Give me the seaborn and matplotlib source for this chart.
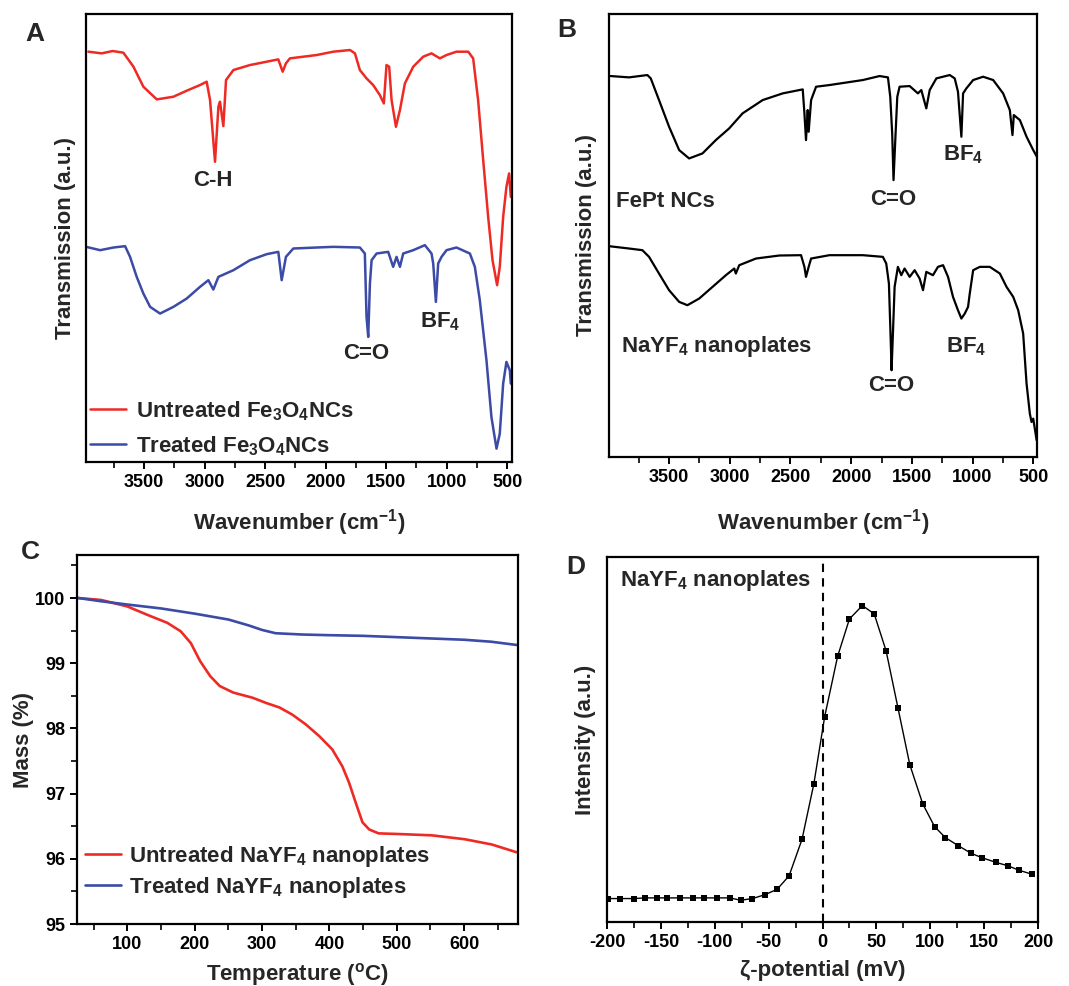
import matplotlib
matplotlib.use('Agg')
import matplotlib.pyplot as plt
from matplotlib.ticker import MultipleLocator
import seaborn as sns

# ---------- data ----------
# A: FTIR, untreated / treated Fe3O4 NCs (transmission in arbitrary units)
a_untreated_wn = [3960, 3850, 3760, 3671, 3588, 3506, 3395, 3258, 3148, 3038, 2983, 2955, 2914, 2886,
                  2873, 2845, 2823, 2762, 2625, 2487, 2391, 2355, 2328, 2295, 2074, 1937, 1799, 1758,
                  1717, 1662, 1607, 1552, 1519, 1497, 1475, 1455, 1419, 1386, 1345, 1276, 1194, 1125,
                  1056, 1001, 919, 822, 781, 740, 698, 657, 621, 583, 561, 533, 506, 484, 470]
a_untreated_t = [123.0, 122.5, 123.2, 122.7, 118.5, 112.5, 108.7, 109.5, 111.3, 113.0, 114.0, 108.5, 90.0, 106.5,
                 108.0, 100.7, 114.5, 117.5, 119.0, 120.0, 120.7, 117.0, 119.5, 121.0, 122.0, 123.0, 123.5, 122.5,
                 117.5, 115.0, 113.0, 110.0, 107.5, 119.0, 118.5, 108.5, 100.5, 105.5, 113.5, 118.5, 121.5, 122.5,
                 121.0, 122.0, 123.0, 123.0, 121.0, 108.5, 90.5, 73.5, 60.5, 53.0, 58.5, 73.5, 82.5, 86.5, 79.5]
a_treated_wn = [3979, 3863, 3753, 3657, 3616, 3561, 3506, 3450, 3368, 3258, 3148, 3038, 2969, 2928,
                2886, 2762, 2625, 2487, 2391, 2363, 2328, 2267, 2074, 1937, 1717, 1676, 1662, 1648,
                1634, 1620, 1579, 1483, 1442, 1414, 1386, 1359, 1276, 1180, 1125, 1111, 1089, 1070,
                1042, 1001, 919, 808, 767, 726, 671, 630, 588, 561, 533, 506, 478, 470]
a_treated_t = [64.5, 63.5, 64.3, 64.7, 61.5, 55.5, 50.5, 46.5, 44.5, 46.5, 49.0, 52.5, 54.5, 51.7,
               55.5, 57.5, 60.5, 62.3, 63.0, 54.5, 61.5, 64.0, 64.3, 64.5, 64.3, 62.5, 43.5, 37.5,
               53.5, 60.5, 62.5, 63.0, 58.5, 61.5, 58.5, 62.5, 63.5, 65.0, 62.5, 59.5, 48.0, 59.5,
               61.5, 63.5, 64.3, 62.5, 58.5, 48.5, 30.5, 13.5, 4.0, 8.5, 23.5, 30.0, 27.5, 23.5]

# B: FTIR, FePt NCs / NaYF4 nanoplates
b_fept_wn = [3982, 3830, 3679, 3651, 3583, 3500, 3417, 3335, 3225, 3115, 3005, 2895, 2729, 2564,
             2399, 2385, 2372, 2358, 2350, 2330, 2289, 2179, 1904, 1766, 1697, 1678, 1662, 1651,
             1634, 1620, 1601, 1518, 1450, 1422, 1381, 1353, 1298, 1188, 1147, 1120, 1092, 1078,
             1051, 995, 913, 830, 748, 693, 671, 660, 610, 555, 500, 470]
b_fept_t = [114.2, 113.8, 114.5, 113.5, 107.0, 99.0, 92.0, 89.5, 91.0, 95.0, 98.5, 103.0, 107.0, 109.0,
            110.2, 103.0, 95.0, 104.0, 97.5, 107.0, 111.0, 111.5, 113.0, 114.2, 113.8, 108.0, 97.0, 83.0,
            97.0, 108.0, 111.0, 111.2, 109.0, 110.0, 104.5, 110.0, 113.5, 114.5, 113.5, 109.5, 96.0, 109.0,
            110.5, 113.0, 114.0, 113.0, 109.0, 104.0, 96.5, 102.5, 101.0, 96.0, 92.0, 90.0]
b_nayf_wn = [3995, 3830, 3720, 3665, 3583, 3500, 3417, 3349, 3252, 3142, 3032, 2963, 2950, 2922,
             2784, 2592, 2413, 2385, 2372, 2350, 2330, 2179, 1904, 1739, 1711, 1689, 1675, 1667,
             1656, 1642, 1615, 1587, 1560, 1518, 1477, 1436, 1408, 1381, 1326, 1285, 1243, 1202,
             1161, 1120, 1092, 1064, 1037, 1023, 995, 940, 858, 775, 720, 665, 624, 583, 555,
             528, 514, 500, 472]
b_nayf_t = [63.2, 62.5, 62.0, 60.0, 55.0, 50.0, 46.5, 45.5, 47.5, 51.0, 54.5, 56.5, 55.0, 57.5,
            59.5, 60.4, 60.5, 57.0, 54.0, 57.0, 59.5, 60.5, 60.5, 60.0, 58.0, 52.0, 36.0, 26.0,
            37.0, 51.0, 57.0, 54.5, 56.5, 54.0, 56.0, 53.5, 50.0, 55.5, 54.5, 57.0, 57.5, 54.0,
            48.0, 44.0, 41.5, 43.0, 45.0, 49.0, 56.0, 57.0, 57.0, 55.0, 51.0, 48.0, 44.0, 37.0, 22.0,
            13.0, 10.5, 11.5, 5.0]

# C: TGA
c_untreated_temp = [27, 61, 100, 130, 159, 179, 194, 208, 223, 237, 257, 286, 306, 326, 345,
                    365, 385, 404, 419, 429, 439, 449, 459, 473, 503, 552, 601, 641, 678]
c_untreated_mass = [100.00, 99.97, 99.87, 99.74, 99.62, 99.49, 99.31, 99.03, 98.80, 98.65, 98.55,
                    98.47, 98.39, 98.32, 98.21, 98.06, 97.88, 97.68, 97.42, 97.17, 96.86, 96.56,
                    96.45, 96.39, 96.38, 96.36, 96.30, 96.22, 96.10]
c_treated_temp = [27, 61, 100, 150, 200, 250, 280, 300, 320, 360, 400, 450, 500, 550, 600, 640, 678]
c_treated_mass = [100.00, 99.95, 99.90, 99.84, 99.76, 99.67, 99.58, 99.51, 99.46, 99.44, 99.43,
                  99.42, 99.40, 99.38, 99.36, 99.33, 99.28]

# D: zeta potential distribution
d_zeta = [-199, -188, -175, -165, -154, -144, -132, -120, -110, -98, -86, -76, -65, -53, -42, -31,
          -19, -8, 2, 14, 25, 37, 48, 59, 70, 81, 93, 104, 114, 126, 138, 148, 161, 172, 182, 194]
d_intensity = [7.0, 7.0, 7.0, 7.2, 7.2, 7.2, 7.2, 7.2, 7.2, 7.2, 7.2, 6.5, 7.0, 8.2, 9.8, 13.8,
               24.7, 41.3, 61.3, 79.3, 90.5, 94.5, 92.0, 81.0, 64.0, 47.0, 35.3, 28.5, 25.2, 22.8,
               20.5, 19.2, 17.8, 16.8, 15.5, 14.3]

RED = '#ee2a24'
BLUE = '#3b4ba6'

# ---------- style ----------
sns.set_style('ticks')
plt.rcParams['font.family'] = ['Liberation Sans', 'DejaVu Sans']
plt.rcParams['font.weight'] = 'bold'
plt.rcParams['axes.labelweight'] = 'bold'
plt.rcParams['axes.unicode_minus'] = False
plt.rcParams['mathtext.fontset'] = 'custom'
plt.rcParams['mathtext.rm'] = 'Liberation Sans:bold'
plt.rcParams['mathtext.it'] = 'Liberation Sans:bold'
plt.rcParams['mathtext.bf'] = 'Liberation Sans:bold'
plt.rcParams['mathtext.default'] = 'rm'

W, H = 1069, 986
fig = plt.figure(figsize=(W / 100, H / 100), dpi=100)


def add_ax(left, top, right, bottom):
    # pixel box -> figure fraction
    return fig.add_axes([left / W, 1 - bottom / H, (right - left) / W, (bottom - top) / H])


def style(ax):
    for sp in ax.spines.values():
        sp.set_linewidth(1.6)
        sp.set_color('k')
    ax.tick_params(which='major', length=5, width=1.4, labelsize=13, color='k',
                   labelcolor='k', direction='out')
    ax.tick_params(which='minor', length=4, width=1.2, color='k', direction='out')


ax_a = add_ax(86, 14, 512, 462)
ax_b = add_ax(609, 14, 1037, 457)
ax_c = add_ax(77, 555, 518, 924)
ax_d = add_ax(607, 557, 1038, 922)

# ---------- A ----------
sns.lineplot(x=a_untreated_wn, y=a_untreated_t, ax=ax_a, color=RED, lw=1.8, sort=False,
             estimator=None, label='Untreated Fe$_3$O$_4$NCs')
sns.lineplot(x=a_treated_wn, y=a_treated_t, ax=ax_a, color=BLUE, lw=1.8, sort=False,
             estimator=None, label='Treated Fe$_3$O$_4$NCs')
ax_a.set_xlim(3980, 460)
ax_a.set_ylim(0, 134.3)
ax_a.set_yticks([])
ax_a.xaxis.set_major_locator(MultipleLocator(500))
ax_a.xaxis.set_minor_locator(MultipleLocator(250))
ax_a.set_xlabel('Wavenumber (cm$^{-1}$)', fontsize=16)
ax_a.set_ylabel('Transmission (a.u.)', fontsize=16)
ax_a.text(2928, 84.5, 'C-H', fontsize=16, ha='center', va='center')
ax_a.text(1662, 32.5, 'C=O', fontsize=16, ha='center', va='center')
ax_a.text(1056, 42.0, 'BF$_4$', fontsize=16, ha='center', va='center')
ax_a.legend(loc='lower left', bbox_to_anchor=(0.0, 0.0), frameon=False, fontsize=16,
            handlelength=1.6, handletextpad=0.45, labelspacing=0.5, borderpad=0.2,
            borderaxespad=0)

# ---------- B ----------
sns.lineplot(x=b_fept_wn, y=b_fept_t, ax=ax_b, color='k', lw=1.6, sort=False, estimator=None)
sns.lineplot(x=b_nayf_wn, y=b_nayf_t, ax=ax_b, color='k', lw=1.6, sort=False, estimator=None)
ax_b.set_xlim(3995, 469)
ax_b.set_ylim(0, 132.8)
ax_b.set_yticks([])
ax_b.xaxis.set_major_locator(MultipleLocator(500))
ax_b.xaxis.set_minor_locator(MultipleLocator(250))
ax_b.set_xlabel('Wavenumber (cm$^{-1}$)', fontsize=16)
ax_b.set_ylabel('Transmission (a.u.)', fontsize=16)
ax_b.text(3938, 76.5, 'FePt NCs', fontsize=16, ha='left', va='center')
ax_b.text(1656, 77.3, 'C=O', fontsize=16, ha='center', va='center')
ax_b.text(1078, 90.5, 'BF$_4$', fontsize=16, ha='center', va='center')
ax_b.text(3899, 33.0, 'NaYF$_4$ nanoplates', fontsize=16, ha='left', va='center')
ax_b.text(1670, 21.5, 'C=O', fontsize=16, ha='center', va='center')
ax_b.text(1051, 33.0, 'BF$_4$', fontsize=16, ha='center', va='center')

# ---------- C ----------
sns.lineplot(x=c_untreated_temp, y=c_untreated_mass, ax=ax_c, color=RED, lw=1.9, sort=False,
             estimator=None, label='Untreated NaYF$_4$ nanoplates')
sns.lineplot(x=c_treated_temp, y=c_treated_mass, ax=ax_c, color=BLUE, lw=1.9, sort=False,
             estimator=None, label='Treated NaYF$_4$ nanoplates')
ax_c.set_xlim(25, 680)
ax_c.set_ylim(95, 100.66)
ax_c.xaxis.set_major_locator(MultipleLocator(100))
ax_c.xaxis.set_minor_locator(MultipleLocator(50))
ax_c.yaxis.set_major_locator(MultipleLocator(1))
ax_c.yaxis.set_minor_locator(MultipleLocator(0.5))
ax_c.set_xlabel('Temperature ($^{\\rm o}$C)', fontsize=16)
ax_c.set_ylabel('Mass (%)', fontsize=16)
ax_c.legend(loc='lower left', bbox_to_anchor=(0.008, 0.054), frameon=False, fontsize=16,
            handlelength=1.6, handletextpad=0.4, labelspacing=0.25, borderpad=0.2,
            borderaxespad=0)

# ---------- D ----------
ax_d.axvline(0, color='k', lw=1.5, ls=(0, (4, 3)), zorder=1)
sns.lineplot(x=d_zeta, y=d_intensity, ax=ax_d, color='k', lw=1.0, sort=False, estimator=None,
             marker='s', markersize=4.8, markeredgewidth=0, zorder=3)
ax_d.set_xlim(-200, 200)
ax_d.set_ylim(0, 109)
ax_d.set_yticks([])
ax_d.xaxis.set_major_locator(MultipleLocator(50))
ax_d.xaxis.set_minor_locator(MultipleLocator(25))
ax_d.set_xlabel('ζ-potential (mV)', fontsize=16)
ax_d.set_ylabel('Intensity (a.u.)', fontsize=16)
ax_d.text(-188, 102, 'NaYF$_4$ nanoplates', fontsize=16, ha='left', va='center')

for ax in (ax_a, ax_b, ax_c, ax_d):
    style(ax)

# label positions (axes fraction)
ax_a.yaxis.set_label_coords(-0.024, 0.5)
ax_b.yaxis.set_label_coords(-0.028, 0.5)
ax_c.yaxis.set_label_coords(-0.098, 0.5)
ax_d.yaxis.set_label_coords(-0.026, 0.5)
ax_a.xaxis.set_label_coords(0.5, -0.100)
ax_b.xaxis.set_label_coords(0.5, -0.112)
ax_c.xaxis.set_label_coords(0.5, -0.100)
ax_d.xaxis.set_label_coords(0.5, -0.105)

# panel letters
for letter, px, py in [('A', 35, 34), ('B', 567, 30), ('C', 30, 552), ('D', 576, 567)]:
    fig.text(px / W, 1 - py / H, letter, fontsize=19, fontweight='bold', ha='center', va='center')

fig.savefig('out.png', dpi=100)
